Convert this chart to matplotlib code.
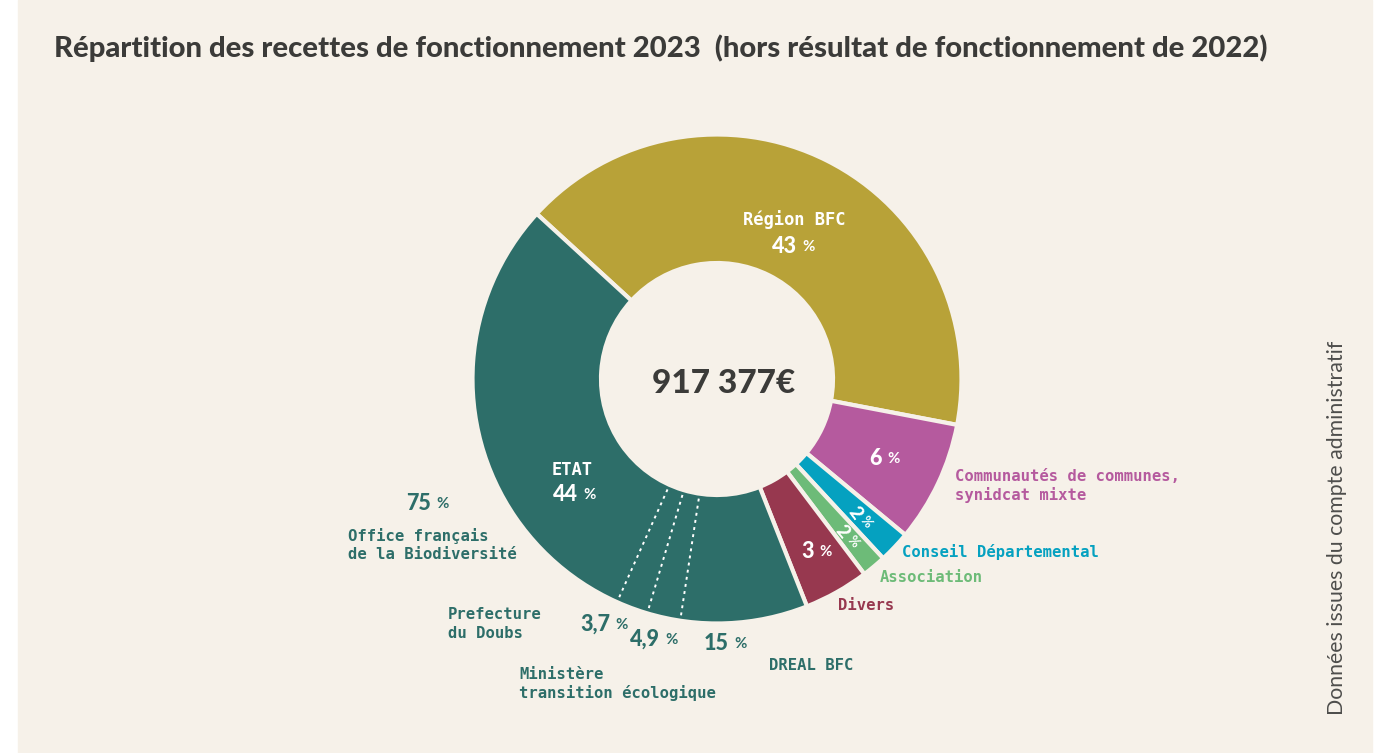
import numpy as np
import matplotlib
matplotlib.use("Agg")
import matplotlib.pyplot as plt

# -------------------------------------------------------------------------
groups = ["Région BFC", "Communautés de communes,\nsynidcat mixte",
          "Conseil Départemental", "Association", "Divers", "ETAT"]
group_share = [41.2, 8.0, 2.1, 1.6, 4.3, 42.8]
group_pct = ["43", "6", "2", "2", "3", "44"]
group_colors = ["#B8A238", "#B55A9E", "#05A1C0", "#6DBB78", "#97384F", "#2D6E69"]

etat_parts = ["DREAL BFC", "Ministère\ntransition écologique",
              "Prefecture\ndu Doubs", "Office français\nde la Biodiversité"]
etat_share = [8.4, 2.2, 2.1, 30.1]
etat_pct = ["15", "4,9", "3,7", "75"]

total_label = "917 377€"
title = "Répartition des recettes de fonctionnement 2023  (hors résultat de fonctionnement de 2022)"
source = "Données issues du compte administratif"

# Layout
# -------------------------------------------------------------------------
W, H = 1382, 753
BG = "#F6F1E9"
DARK = "#3B3B39"
TEAL = group_colors[5]
cx, cy = 717, H - 379
R, r_in = 244.5, 116
start = 137.5
mono = ["DejaVu Sans Mono"]
sans = ["Lato", "DejaVu Sans"]

fig = plt.figure(figsize=(W / 100, H / 100), dpi=100, facecolor="white")
ax = fig.add_axes([0, 0, 1, 1])
ax.add_patch(plt.Rectangle((18, 0), 1354, H, color=BG, zorder=0))

ax.pie(group_share, colors=group_colors, radius=R, center=(cx, cy),
       startangle=start, counterclock=False,
       wedgeprops=dict(width=R - r_in, edgecolor=BG, linewidth=3))

# dotted separators inside ETAT
before = sum(group_share[:5])
cum = before + np.cumsum(etat_share)[:-1]
for c in cum:
    th = np.deg2rad(start - 360 * c / sum(group_share))
    rr = np.array([r_in + 5, R - 4])
    ax.plot(cx + rr * np.cos(th), cy + rr * np.sin(th), color="white",
            lw=1.4, ls=(0, (1.5, 2.2)), zorder=5)

ax.set_xlim(0, W)
ax.set_ylim(0, H)
ax.set_aspect("equal")
ax.axis("off")


def T(x, y, s, **kw):
    ax.text(x, H - y, s, **kw)


def pct(x, y, num, color, size=15.5, rot=0):
    # number with a smaller percent sign
    T(x, y, num, color=color, fontsize=size, fontweight="black", family=sans,
      ha="right", va="center", rotation=rot, rotation_mode="anchor")
    T(x + 5, y + 1, "%", color=color, fontsize=size * 0.7, fontweight="bold",
      family=sans, ha="left", va="center", rotation=rot, rotation_mode="anchor")


T(54, 48, title, fontsize=21.1, fontweight="black", family=sans, color=DARK,
  va="center", ha="left")
T(724, 383, total_label, fontsize=24, fontweight="black", family=sans,
  color=DARK, ha="center", va="center")
ax.text(1337, H - 528, source, rotation=90, fontsize=15.3, family=sans,
        fontweight="normal", color="#4E4E4C", ha="center", va="center")

# labels inside the ring
T(794, 220, groups[0], color="white", fontsize=12.3, fontweight="bold",
  family=mono, ha="center", va="center")
pct(797, 246, group_pct[0], "white")
T(572, 470, groups[5], color="white", fontsize=12.3, fontweight="bold",
  family=mono, ha="center", va="center")
pct(578, 494, group_pct[5], "white")
pct(882, 458, group_pct[1], "white")
pct(814, 551, group_pct[4], "white")
pct(858, 517, group_pct[2], "white", size=13.5, rot=-53)
pct(845, 536, group_pct[3], "white", size=13.5, rot=-50)

# outside labels
lab = dict(fontsize=11.2, fontweight="bold", family=mono, va="center",
           ha="left", linespacing=1.3)
T(955, 486, groups[1], color=group_colors[1], **lab)
T(902, 552, groups[2], color=group_colors[2], **lab)
T(880, 578, groups[3], color=group_colors[3], **lab)
T(838, 606, groups[4], color=group_colors[4], **lab)
T(769, 665, etat_parts[0], color=TEAL, **lab)
T(519, 684, etat_parts[1], color=TEAL, **lab)
T(448, 624, etat_parts[2], color=TEAL, **lab)
T(348, 545, etat_parts[3], color=TEAL, **lab)

pct(729, 643, etat_pct[0], TEAL)
pct(660, 639, etat_pct[1], TEAL)
pct(610, 624, etat_pct[2], TEAL)
pct(431, 503, etat_pct[3], TEAL)

fig.savefig("out.png", dpi=100, facecolor=fig.get_facecolor())
